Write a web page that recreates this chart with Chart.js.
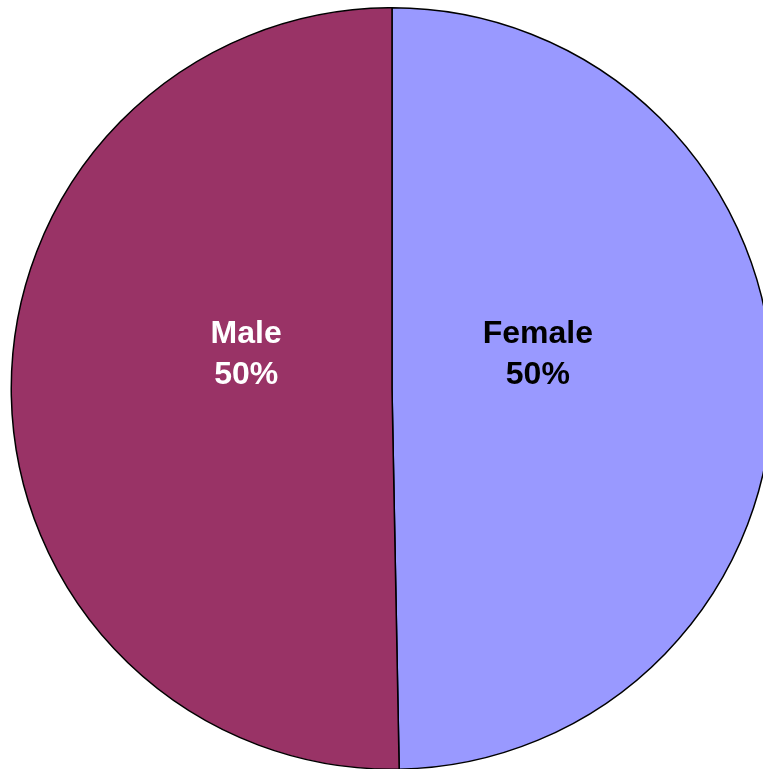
<!DOCTYPE html>
<html>
<head>
<meta charset="utf-8">
<script src="https://cdn.jsdelivr.net/npm/chart.js@4/dist/chart.umd.min.js"></script>
<style>
  html, body { margin: 0; padding: 0; background: #fff; overflow: hidden; width: 763px; height: 769px; }
  #wrap { position: absolute; left: -2px; top: 7px; width: 788px; height: 763px; }
</style>
</head>
<body>
<div id="wrap"><canvas id="pieChart"></canvas></div>
<script>
// Pie data (shares; both display as 50%)
const categories = ["Female", "Male"];
const shares = [49.7, 50.3];
const sliceColors = ["#9999FF", "#993366"];
const labelColors = ["#000000", "#FFFFFF"];

// Draw "Name\nxx%" inside each slice
const sliceLabels = {
  id: "sliceLabels",
  afterDatasetsDraw(chart) {
    const ctx = chart.ctx;
    const meta = chart.getDatasetMeta(0);
    const total = shares.reduce((a, b) => a + b, 0);
    ctx.save();
    ctx.font = "bold 32px 'Liberation Sans', Arial, sans-serif";
    ctx.textAlign = "center";
    ctx.textBaseline = "alphabetic";
    meta.data.forEach((arc, i) => {
      const p = arc.getProps(["x", "y", "startAngle", "endAngle", "outerRadius"], true);
      const mid = (p.startAngle + p.endAngle) / 2;
      const x = p.x + Math.cos(mid) * p.outerRadius * 0.383;
      const y = p.y;
      const pct = Math.round(shares[i] / total * 100) + "%";
      ctx.fillStyle = labelColors[i];
      ctx.fillText(categories[i], x, y - 46);
      ctx.fillText(pct, x, y - 5);
    });
    ctx.restore();
  }
};

const ctx = document.getElementById("pieChart").getContext("2d");
const pieChart = new Chart(ctx, {
  type: "pie",
  data: {
    labels: categories,
    datasets: [{
      data: shares,
      backgroundColor: sliceColors,
      borderColor: "#000000",
      borderWidth: 1.5,
      borderJoinStyle: "miter"
    }]
  },
  options: {
    responsive: true,
    maintainAspectRatio: false,
    animation: false,
    rotation: 0,
    layout: { padding: 0 },
    plugins: {
      legend: { display: false },
      tooltip: { enabled: false }
    }
  },
  plugins: [sliceLabels]
});
</script>
</body>
</html>
